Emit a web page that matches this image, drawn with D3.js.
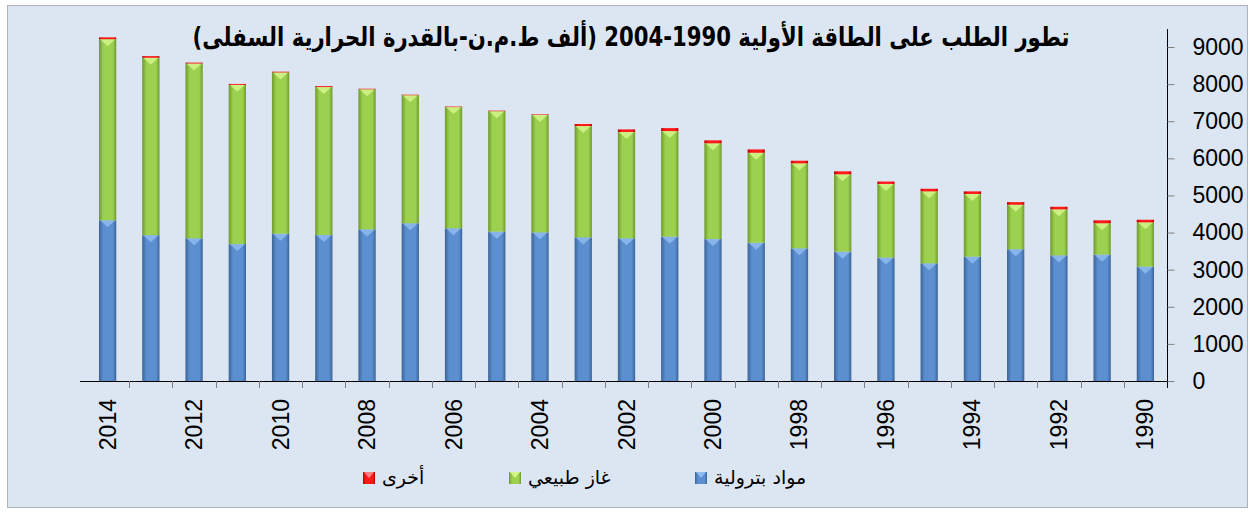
<!DOCTYPE html>
<html>
<head>
<meta charset="utf-8">
<script src="https://cdn.jsdelivr.net/npm/d3@7"></script>
<style>
  body { margin: 0; background: #ffffff; }
  svg { display: block; }
</style>
</head>
<body>
<svg id="chart"></svg>
<script>
// years shown left to right (newest first, as in the source)
const years = [2014, 2013, 2012, 2011, 2010, 2009, 2008, 2007, 2006, 2005, 2004, 2003, 2002,
  2001, 2000, 1999, 1998, 1997, 1996, 1995, 1994, 1993, 1992, 1991, 1990];
const petroleum = [4330, 3930, 3845, 3690, 3970, 3935, 4085, 4250, 4115, 4025, 4005, 3870, 3845,
  3890, 3825, 3725, 3575, 3485, 3325, 3170, 3350, 3550, 3385, 3405, 3080];
const naturalGas = [4880, 4780, 4710, 4290, 4345, 3985, 3775, 3450, 3265, 3245, 3165, 3000, 2865,
  2845, 2580, 2425, 2290, 2085, 1985, 1940, 1690, 1200, 1240, 845, 1195];
const other = [50, 45, 25, 25, 20, 25, 15, 15, 15, 15, 15, 55, 70,
  80, 80, 90, 70, 80, 65, 70, 70, 70, 70, 80, 70];
const seriesNames = ["مواد بترولية", "غاز طبيعي", "أخرى"];
const yTicks = [0, 1000, 2000, 3000, 4000, 5000, 6000, 7000, 8000, 9000];
const xLabelYears = [2014, 2012, 2010, 2008, 2006, 2004, 2002, 2000, 1998, 1996, 1994, 1992, 1990];
const title = "تطور الطلب على الطاقة الأولية 1990-2004 (ألف ط.م.ن-بالقدرة الحرارية السفلى)";

const width = 1253, height = 512;
const plot = { left: 86, right: 1167, top: 47, bottom: 381 };

const colors = [
  { dark: "#3c6496", mid: "#5b8fd0", light: "#8fbcf0" },
  { dark: "#6f9a2c", mid: "#9cd04f", light: "#d4f58a" },
  { dark: "#c00000", mid: "#ff1a1a", light: "#ff8080" }
];

const svg = d3.select("#chart").attr("width", width).attr("height", height);

// background + frame
svg.append("rect")
  .attr("x", 0).attr("y", 0).attr("width", width).attr("height", height)
  .attr("fill", "#ffffff");
svg.append("rect")
  .attr("x", 7.5).attr("y", 5.5).attr("width", 1240).attr("height", 502)
  .attr("fill", "#dce5f2").attr("stroke", "#aeb3ba");

const defs = svg.append("defs");
colors.forEach((c, i) => {
  const g = defs.append("linearGradient").attr("id", "grad" + i)
    .attr("x1", "0").attr("x2", "1").attr("y1", "0").attr("y2", "0");
  g.append("stop").attr("offset", "0%").attr("stop-color", c.dark);
  g.append("stop").attr("offset", "25%").attr("stop-color", c.mid);
  g.append("stop").attr("offset", "50%").attr("stop-color", c.mid);
  g.append("stop").attr("offset", "80%").attr("stop-color", c.mid);
  g.append("stop").attr("offset", "100%").attr("stop-color", c.dark);
});

const x = d3.scaleBand().domain(years).range([plot.left, plot.right]).paddingInner(0.6).paddingOuter(0.3);
const y = d3.scaleLinear().domain([0, 9000]).range([plot.bottom, plot.top]);

const data = years.map((yr, i) => ({ year: yr, petroleum: petroleum[i], gas: naturalGas[i], other: other[i] }));
const stack = d3.stack().keys(["petroleum", "gas", "other"]);
const layers = stack(data);

const barsG = svg.append("g");
layers.forEach((layer, li) => {
  const g = barsG.append("g");
  g.selectAll("rect")
    .data(layer)
    .join("rect")
    .attr("x", d => x(d.data.year))
    .attr("y", d => y(d[1]))
    .attr("width", x.bandwidth())
    .attr("height", d => Math.max(0, y(d[0]) - y(d[1])))
    .attr("fill", `url(#grad${li})`);
  // bevel triangle at top of each segment
  if (li < 2) {
    g.selectAll("path")
      .data(layer)
      .join("path")
      .attr("d", d => {
        const x0 = x(d.data.year), w = x.bandwidth(), t = y(d[1]);
        return `M${x0 + 1},${t} L${x0 + w - 1},${t} L${x0 + w / 2},${t + 7} Z`;
      })
      .attr("fill", colors[li].light)
      .attr("opacity", 0.85);
  }
});

// x axis
svg.append("line")
  .attr("x1", 80).attr("x2", plot.right).attr("y1", plot.bottom + 0.5).attr("y2", plot.bottom + 0.5)
  .attr("stroke", "#000");
// separators between categories
svg.append("g").selectAll("line")
  .data(years.slice(1))
  .join("line")
  .attr("x1", d => Math.round(x(d) - x.step() * 0.3) + 0.5)
  .attr("x2", d => Math.round(x(d) - x.step() * 0.3) + 0.5)
  .attr("y1", plot.bottom).attr("y2", plot.bottom + 7)
  .attr("stroke", "#808080");

svg.append("g").selectAll("text")
  .data(xLabelYears)
  .join("text")
  .attr("transform", d => `translate(${x(d) + x.bandwidth() / 2 + 8},${plot.bottom + 18}) rotate(-90)`)
  .attr("text-anchor", "end")
  .attr("font-family", "Liberation Sans, Arial, sans-serif")
  .attr("font-size", 23)
  .attr("fill", "#000")
  .text(d => d);

// y axis on the right
const yAxis = d3.axisRight(y).tickValues(yTicks).tickSize(7).tickPadding(18).tickFormat(d3.format("d"));
const yg = svg.append("g").attr("transform", `translate(${plot.right + 0.5},0)`).call(yAxis);
yg.select(".domain").attr("d", `M0,${plot.bottom + 7}V${plot.top - 18}`).attr("stroke", "#000");
yg.selectAll(".tick line").attr("stroke", "#808080");
yg.selectAll(".tick text")
  .attr("font-family", "Liberation Sans, Arial, sans-serif")
  .attr("font-size", 23)
  .attr("fill", "#000");

// title
svg.append("text")
  .attr("x", 631).attr("y", 46)
  .attr("text-anchor", "middle")
  .attr("direction", "rtl")
  .attr("font-family", "DejaVu Sans, sans-serif")
  .attr("font-weight", "bold")
  .attr("font-size", 26)
  .attr("textLength", 877)
  .attr("lengthAdjust", "spacingAndGlyphs")
  .attr("fill", "#000")
  .text(title);

// legend
const legendItems = [
  { name: seriesNames[0], i: 0, sx: 695 },
  { name: seriesNames[1], i: 1, sx: 509 },
  { name: seriesNames[2], i: 2, sx: 363 }
];
const lg = svg.append("g");
legendItems.forEach(it => {
  lg.append("rect")
    .attr("x", it.sx).attr("y", 472).attr("width", 12).attr("height", 12)
    .attr("fill", `url(#grad${it.i})`);
  lg.append("path")
    .attr("d", `M${it.sx + 1},472 L${it.sx + 11},472 L${it.sx + 6},478 Z`)
    .attr("fill", colors[it.i].light);
  lg.append("text")
    .attr("x", it.sx + 19).attr("y", 484)
    .attr("direction", "rtl")
    .attr("text-anchor", "end")
    .attr("font-family", "DejaVu Sans, sans-serif")
    .attr("font-size", 19)
    .attr("fill", "#000")
    .text(it.name);
});
</script>
</body>
</html>
